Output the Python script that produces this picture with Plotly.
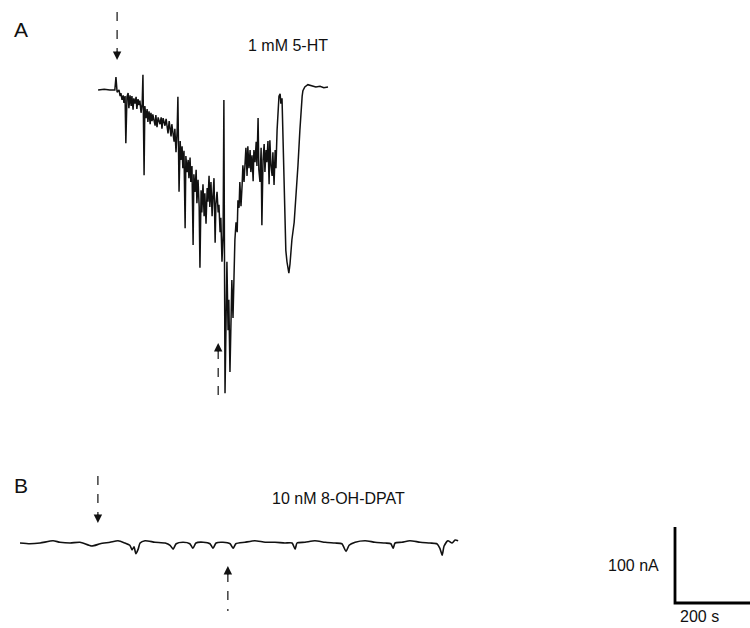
import plotly.graph_objects as go

# ---------------------------------------------------------------
# Whole-cell current traces (time in s, current in nA; inward = negative)
# ---------------------------------------------------------------

# A: response to 1 mM 5-HT
time_a = [-5, 11, 26, 39, 42, 45, 50, 53, 55, 58, 61, 63, 66, 68, 71, 74, 76, 79, 82, 84,
          87, 89, 92, 95, 97, 100, 103, 105, 108, 111, 113, 116, 118, 121, 124, 126, 129, 132, 134, 137,
          139, 145, 147, 150, 153, 158, 161, 163, 166, 171, 174, 179, 182, 187, 189, 195, 197, 200, 203, 205,
          208, 211, 213, 216, 218, 221, 224, 226, 229, 232, 234, 237, 239, 242, 245, 247, 250, 253, 255, 258,
          261, 263, 266, 268, 271, 274, 276, 279, 282, 284, 287, 289, 292, 295, 297, 300, 303, 305, 308, 311,
          313, 316, 318, 321, 324, 326, 329, 332, 334, 337, 339, 342, 345, 347, 350, 353, 355, 358, 361, 363,
          366, 368, 371, 374, 376, 379, 382, 384, 387, 389, 392, 395, 397, 400, 403, 405, 408, 411, 413, 416,
          418, 421, 424, 426, 429, 432, 434, 437, 439, 442, 445, 447, 450, 453, 455, 458, 461, 463, 466, 468,
          471, 474, 476, 479, 482, 484, 487, 489, 492, 495, 497, 500, 505, 511, 516, 521, 526, 529, 532, 534,
          539, 547, 558, 568, 579, 589, 600]
current_a = [0, 1, 0, 0, 17, -3, 0, -8, -4, -13, -7, -17, -8, -70, -9, -4, -24, -7, -21, -8,
             -26, -11, -18, -9, -25, -12, -20, -14, -30, -18, 20, -112, -21, -37, -25, -42, -28, -45, -30, -41,
             -32, -47, -33, -49, -36, -45, -36, -51, -37, -47, -38, -57, -41, -61, -45, -68, -51, -82, -54, -9,
             -134, -67, -92, -74, -103, -80, -182, -87, -108, -92, -116, -89, -121, -100, -204, -111, -134, -105, -149, -118,
             -154, -234, -132, -161, -124, -166, -136, -176, -129, -147, -113, -154, -121, -166, -142, -116, -201, -150, -134, -161,
             -151, -187, -168, -226, -191, -13, -399, -283, -226, -316, -276, -371, -289, -250, -300, -230, -197, -174, -187, -145,
             -155, -121, -153, -125, -99, -121, -89, -76, -113, -74, -103, -79, -108, -86, -120, -79, -95, -68, -100, -37,
             -105, -121, -76, -178, -92, -71, -108, -79, -95, -67, -124, -66, -100, -113, -82, -125, -79, -103, -53, -29,
             -8, -5, -18, -11, -72, -132, -187, -211, -226, -239, -241, -229, -197, -174, -139, -99, -53, -26, -8, -1,
             4, 7, 5, 4, 5, 3, 4]

# B: response to 10 nM 8-OH-DPAT
time_b = [0, 26, 53, 87, 105, 132, 158, 189, 211, 237, 258, 276, 289, 295, 300, 305, 311, 316, 329, 355,
          382, 395, 403, 411, 429, 447, 455, 463, 482, 500, 508, 516, 534, 553, 561, 568, 592, 618, 645, 671,
          697, 716, 724, 729, 750, 776, 803, 829, 847, 858, 866, 882, 908, 934, 961, 976, 982, 987, 1005, 1026,
          1053, 1079, 1097, 1105, 1111, 1116, 1126, 1137, 1145, 1153]
current_b = [0, -1, 0, 3, 1, 0, 1, -4, -1, 1, 3, 0, -3, -9, -5, -14, -8, 0, 3, 1,
             0, -3, -8, -1, 1, -1, -7, 0, 1, -1, -7, 0, 1, -1, -7, -1, 1, 3, 1, 1,
             0, 0, -8, 0, 1, 3, 1, 0, -1, -11, -3, 1, 3, 1, 0, -1, -7, 0, 1, 3,
             1, 0, -1, -7, -16, -4, 3, 0, 4, 3]

# Drug application (down arrow) and washout (up arrow), s
drug_on_a, drug_off_a = 45, 311
drug_on_b, drug_off_b = 205, 547

# Calibration bar
bar_time_s = 200
bar_current_na = 100

# ---------------------------------------------------------------
# Page geometry: every panel shares one px/s and px/nA scale
# ---------------------------------------------------------------
W, H = 750, 628
PX_PER_S = 0.38
PX_PER_NA = 0.76
FONT = "Liberation Sans, Arial, sans-serif"
INK = "#111111"


def axis_ranges(x0, y0):
    """x/y ranges that put (t=0, I=0) at page pixel (x0, y0)."""
    xr = [-x0 / PX_PER_S, (W - x0) / PX_PER_S]
    yr = [(y0 - H) / PX_PER_NA, y0 / PX_PER_NA]
    return xr, yr


def py(p):
    return 1 - p / H


xa, ya = axis_ranges(100, 90)
xb, yb = axis_ranges(20, 543)
xs, ys = axis_ranges(675, 603)

fig = go.Figure()
fig.add_trace(go.Scatter(x=time_a, y=current_a, mode="lines",
                         line=dict(color=INK, width=1.5), xaxis="x", yaxis="y",
                         hoverinfo="skip"))
fig.add_trace(go.Scatter(x=time_b, y=current_b, mode="lines",
                         line=dict(color=INK, width=1.6, shape="spline", smoothing=0.6),
                         xaxis="x2", yaxis="y2", hoverinfo="skip"))
fig.add_trace(go.Scatter(x=[0, 0, bar_time_s], y=[bar_current_na, 0, 0], mode="lines",
                         line=dict(color="#000000", width=2.8), xaxis="x3", yaxis="y3",
                         hoverinfo="skip"))

hidden = dict(visible=False, showgrid=False, zeroline=False, fixedrange=True)
fig.update_layout(
    width=W, height=H,
    margin=dict(l=0, r=0, t=0, b=0),
    paper_bgcolor="white", plot_bgcolor="rgba(0,0,0,0)",
    showlegend=False,
    xaxis=dict(domain=[0, 1], range=xa, anchor="y", **hidden),
    yaxis=dict(domain=[0, 1], range=ya, anchor="x", **hidden),
    xaxis2=dict(domain=[0, 1], range=xb, anchor="y2", **hidden),
    yaxis2=dict(domain=[0, 1], range=yb, anchor="x2", **hidden),
    xaxis3=dict(domain=[0, 1], range=xs, anchor="y3", **hidden),
    yaxis3=dict(domain=[0, 1], range=ys, anchor="x3", **hidden),
)

# Arrows: dashed shaft + filled head
arrows = [
    # (axis, time, shaft top px, shaft bottom px, tip px, pointing down?)
    ("x", drug_on_a, 12, 52, 60, True),
    ("x", drug_off_a, 350, 397, 343, False),
    ("x2", drug_on_b, 476, 515, 523, True),
    ("x2", drug_off_b, 573, 611, 566, False),
]
for xref, t, top, bot, tip, down in arrows:
    fig.add_shape(type="line", xref=xref, yref="paper", x0=t, x1=t,
                  y0=py(top), y1=py(bot), line=dict(color=INK, width=1.2, dash="dash"))
    fig.add_annotation(x=t, y=py(tip), xref=xref, yref="paper", text="",
                       showarrow=True, ax=0, ay=-10 if down else 10,
                       arrowhead=2, arrowsize=1.2, arrowwidth=1.4, arrowcolor=INK)

# Labels
def label(text, size):
    return dict(text=text, showarrow=False, font=dict(family=FONT, size=size, color=INK))


fig.add_annotation(x=12 / W, y=py(30), xref="paper", yref="paper",
                   xanchor="left", yanchor="middle", **label("A", 21))
fig.add_annotation(x=12 / W, y=py(485), xref="paper", yref="paper",
                   xanchor="left", yanchor="middle", **label("B", 21))
fig.add_annotation(x=246 / W, y=py(45), xref="paper", yref="paper",
                   xanchor="left", yanchor="middle", **label("1 mM 5-HT", 16))
fig.add_annotation(x=270 / W, y=py(498), xref="paper", yref="paper",
                   xanchor="left", yanchor="middle", **label("10 nM 8-OH-DPAT", 16))
fig.add_annotation(x=0, y=bar_current_na / 2, xref="x3", yref="y3",
                   xanchor="right", yanchor="middle", xshift=-14, **label("100 nA", 16))
fig.add_annotation(x=0, y=0, xref="x3", yref="y3",
                   xanchor="left", yanchor="top", xshift=3, yshift=-3, **label("200 s", 16))

fig.write_html("out.html")
